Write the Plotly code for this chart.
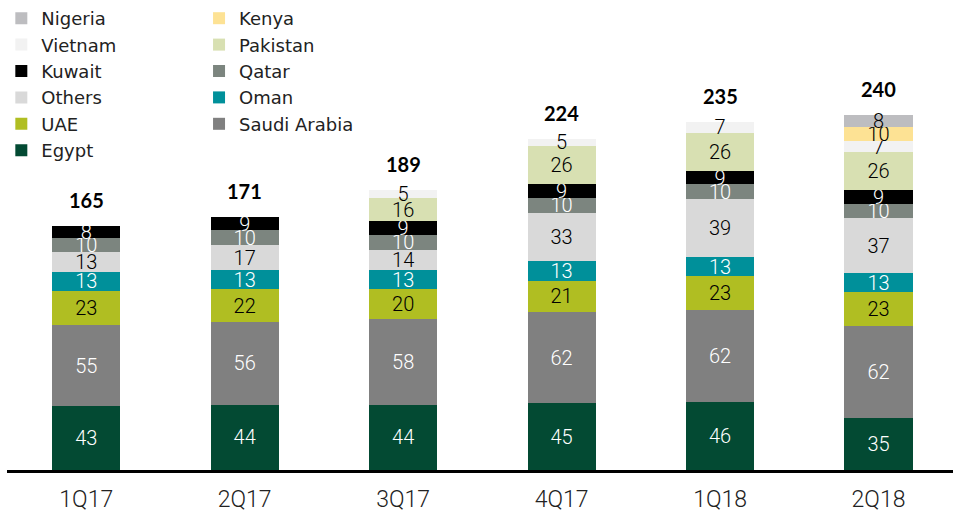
import plotly.graph_objects as go

quarters = ["1Q17", "2Q17", "3Q17", "4Q17", "1Q18", "2Q18"]

egypt = [43, 44, 44, 45, 46, 35]
saudi_arabia = [55, 56, 58, 62, 62, 62]
uae = [23, 22, 20, 21, 23, 23]
oman = [13, 13, 13, 13, 13, 13]
others = [13, 17, 14, 33, 39, 37]
qatar = [10, 10, 10, 10, 10, 10]
kuwait = [8, 9, 9, 9, 9, 9]
pakistan = [None, None, 16, 26, 26, 26]
vietnam = [None, None, 5, 5, 7, 7]
kenya = [None, None, None, None, None, 10]
nigeria = [None, None, None, None, None, 8]

totals = [165, 171, 189, 224, 235, 240]

# (name, values, fill colour, label colour, legend)
series = [
    ("Egypt", egypt, "#034a33", "white", "legend"),
    ("Saudi Arabia", saudi_arabia, "#808080", "white", "legend2"),
    ("UAE", uae, "#b0be22", "black", "legend"),
    ("Oman", oman, "#00909a", "white", "legend2"),
    ("Others", others, "#d9d9d9", "black", "legend"),
    ("Qatar", qatar, "#7c857f", "white", "legend2"),
    ("Kuwait", kuwait, "#000000", "white", "legend"),
    ("Pakistan", pakistan, "#d8e0b2", "black", "legend2"),
    ("Vietnam", vietnam, "#f2f2f2", "black", "legend"),
    ("Kenya", kenya, "#fde294", "black", "legend2"),
    ("Nigeria", nigeria, "#bdbdc0", "black", "legend"),
]

num_font = "Roboto, Liberation Sans Narrow, sans-serif"
txt_font = "Lato, Open Sans, sans-serif"
leg_font = "DejaVu Sans, Lato, sans-serif"

fig = go.Figure()
for name, vals, color, tcolor, leg in series:
    fig.add_trace(go.Bar(
        name=name,
        x=quarters,
        y=vals,
        marker=dict(color=color, line=dict(width=0)),
        text=[("" if v is None else str(v)) for v in vals],
        textposition="inside",
        insidetextanchor="middle",
        textangle=0,
        constraintext="none",
        textfont=dict(color=tcolor, size=20, family=num_font, weight=300),
        legend=leg,
        hoverinfo="x+y+name",
    ))

for q, t in zip(quarters, totals):
    fig.add_annotation(
        x=q, y=t, text=str(t), showarrow=False,
        yanchor="bottom", yshift=12,
        font=dict(size=20, color="black", family=txt_font, weight="bold"),
    )

legend_style = dict(
    orientation="v",
    traceorder="reversed",
    font=dict(size=18, color="#222222", family=leg_font),
    bgcolor="rgba(0,0,0,0)",
    borderwidth=0,
    yanchor="top",
    xanchor="left",
    itemclick=False,
    tracegroupgap=0,
)

fig.update_layout(
    width=953,
    height=512,
    barmode="stack",
    bargap=0.57,
    plot_bgcolor="white",
    paper_bgcolor="white",
    margin=dict(l=7, r=0, t=0, b=42),
    showlegend=True,
    legend=dict(legend_style, x=-0.006, y=1.0),
    legend2=dict(legend_style, x=0.203, y=1.0),
    xaxis=dict(
        range=[-0.5, 5.47],
        automargin=False,
        showline=True, linecolor="black", linewidth=3,
        ticks="", showgrid=False, zeroline=False,
        ticklabelstandoff=6,
        tickfont=dict(size=23, color="#222222", family=num_font, weight=300),
    ),
    yaxis=dict(
        range=[0, 317.6],
        visible=False, showgrid=False, zeroline=False,
    ),
)

fig.write_html("out.html")
